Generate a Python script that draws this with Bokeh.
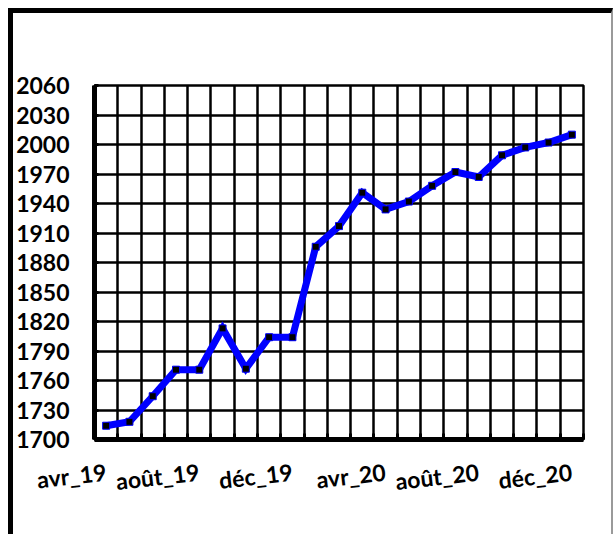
from bokeh.plotting import figure
from bokeh.models import (Range1d, LinearAxis, FixedTicker)
from bokeh.embed import file_html
from bokeh.resources import INLINE

months = ["avr_19", "mai_19", "juin_19", "juil_19", "août_19", "sept_19", "oct_19",
          "nov_19", "déc_19", "janv_20", "févr_20", "mars_20", "avr_20", "mai_20",
          "juin_20", "juil_20", "août_20", "sept_20", "oct_20", "nov_20", "déc_20"]
values = [1714, 1718, 1744, 1771, 1771, 1813, 1772, 1804, 1804, 1896, 1917,
          1951, 1934, 1942, 1958, 1972, 1967, 1989, 1997, 2002, 2010]
label_idx = [0, 4, 8, 12, 16, 20]
y_ticks = list(range(1700, 2061, 30))

x = list(range(len(months)))
n = len(months)

FONT = "Lato"

p = figure(width=605, height=526, output_backend="svg", toolbar_location=None,
           x_range=Range1d(-0.5, n - 0.5), y_range=Range1d(1700, 2060),
           min_border_left=80, min_border_right=35, min_border_top=72,
           min_border_bottom=100)
p.styles = {"margin-left": "8px", "margin-top": "8px",
            "border-top": "5px solid black", "border-left": "5px solid black",
            "border-right": "2px solid #9a9a9a"}

p.background_fill_color = "white"
p.border_fill_color = "white"
p.outline_line_color = "black"
p.outline_line_width = 2.5

# grids
p.xgrid.ticker = FixedTicker(ticks=[i + 0.5 for i in range(n - 1)])
p.xgrid.grid_line_color = "black"
p.xgrid.grid_line_width = 2.5
p.ygrid.ticker = FixedTicker(ticks=y_ticks)
p.ygrid.grid_line_color = "black"
p.ygrid.grid_line_width = 2.5

# y axis
ya = p.yaxis[0]
ya.ticker = FixedTicker(ticks=y_ticks)
ya.axis_line_width = 5
ya.major_tick_line_width = 3
ya.major_tick_in = 4
ya.major_tick_out = 0
ya.minor_tick_line_color = None
ya.major_label_standoff = 25
ya.major_label_text_font = FONT
ya.major_label_text_font_style = "bold"
ya.major_label_text_font_size = "23px"
ya.major_label_text_color = "black"

# x axis (ticks only, at month boundaries)
xa = p.xaxis[0]
xa.ticker = FixedTicker(ticks=[i - 0.5 for i in range(n + 1)])
xa.axis_line_width = 5
xa.major_tick_line_width = 3
xa.major_tick_in = 6
xa.major_tick_out = 0
xa.minor_tick_line_color = None
xa.major_label_text_color = None
xa.major_label_text_font_size = "1px"
xa.major_label_standoff = 0

# month labels, every 4th month, slightly rotated
la = LinearAxis(ticker=FixedTicker(ticks=label_idx),
                major_label_overrides={i: months[i] for i in label_idx})
la.axis_line_color = None
la.major_tick_line_color = None
la.minor_tick_line_color = None
la.major_label_standoff = 26
la.major_label_orientation = 0.115
la.major_label_text_font = FONT
la.major_label_text_font_style = "bold"
la.major_label_text_font_size = "23px"
la.major_label_text_color = "black"
p.add_layout(la, "below")

p.line(x, values, line_color="#0000FF", line_width=7, line_join="miter")
p.scatter(x, values, marker="square", size=7, fill_color="black",
          line_color="#0000FF", line_width=1)

open("out.html", "w").write(file_html(p, INLINE))
